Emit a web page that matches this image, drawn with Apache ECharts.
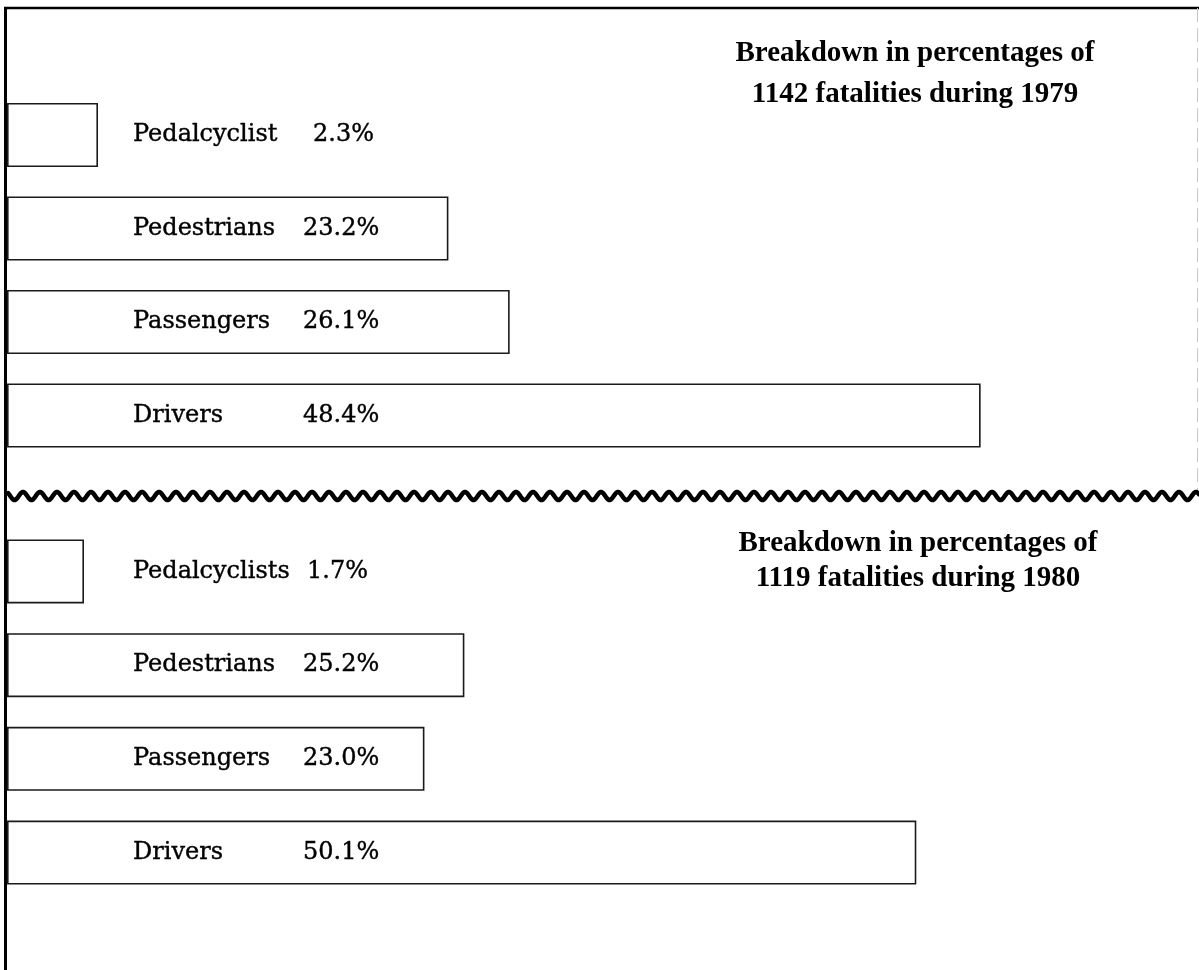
<!DOCTYPE html>
<html>
<head>
<meta charset="utf-8">
<script src="https://cdn.jsdelivr.net/npm/echarts@6/dist/echarts.min.js"></script>
<style>
  html, body { margin: 0; padding: 0; background: #fff; }
  #chart { width: 1199px; height: 970px; }
</style>
</head>
<body>
<div id="chart"></div>
<script>
// ---- data ----
const categories1979 = ['Pedalcyclist', 'Pedestrians', 'Passengers', 'Drivers'];
const percent1979 = [2.3, 23.2, 26.1, 48.4];
const categories1980 = ['Pedalcyclists', 'Pedestrians', 'Passengers', 'Drivers'];
const percent1980 = [1.7, 25.2, 23.0, 50.1];
const title1979 = ['Breakdown in percentages of', '1142 fatalities during 1979'];
const title1980 = ['Breakdown in percentages of', '1119 fatalities during 1980'];

// ---- styling ----
const LABEL_FONT = '"DejaVu Serif", "Liberation Serif", serif';
const TITLE_FONT = '"Liberation Serif", "DejaVu Serif", serif';

function makeLabel(cats, firstWidth) {
  const base = { fontFamily: LABEL_FONT, fontSize: 24, color: '#000', textBorderColor: '#000', textBorderWidth: 0.4 };
  return {
    show: true,
    position: [126, '50%'],
    align: 'left',
    verticalAlign: 'middle',
    formatter: p => {
      const key = p.dataIndex === 0 ? 'w' : 'n';
      return '{' + key + '|' + cats[p.dataIndex] + '}{v|' + p.value.toFixed(1) + '%}';
    },
    rich: {
      n: Object.assign({ width: 170 }, base),
      w: Object.assign({ width: firstWidth }, base),
      v: Object.assign({}, base)
    }
  };
}

function barSeries(idx, values, cats, minLen, firstWidth) {
  return {
    type: 'bar',
    xAxisIndex: idx,
    yAxisIndex: idx,
    data: values,
    barWidth: 64,
    barMinHeight: minLen,
    itemStyle: { color: '#fff', borderColor: '#1a1a1a', borderWidth: 1.6 },
    label: makeLabel(cats, firstWidth),
    emphasis: { disabled: true },
    silent: true
  };
}

// wavy separator (decoration)
function wavePoints(x0, x1, yc, amp, wl, crestX) {
  const pts = [];
  for (let x = x0; x <= x1; x += 1) {
    pts.push([x, yc - amp * Math.cos(2 * Math.PI * (x - crestX) / wl)]);
  }
  return pts;
}

function titleText(x, y, text) {
  return {
    type: 'text', x: x, y: y, silent: true,
    style: {
      text: text, fill: '#000',
      font: 'bold 29px ' + TITLE_FONT,
      textAlign: 'center', textVerticalAlign: 'middle'
    }
  };
}

const chart = echarts.init(document.getElementById('chart'), null, { renderer: 'canvas' });
chart.setOption({
  animation: false,
  backgroundColor: '#fff',
  grid: [
    { left: 7, top: 88.25, width: 1176.4, height: 374 },
    { left: 7, top: 524.6, width: 1089, height: 374.8 }
  ],
  xAxis: [
    { type: 'value', gridIndex: 0, min: 2.3, max: 58, startValue: 2.3, show: false },
    { type: 'value', gridIndex: 1, min: 0, max: 60, show: false }
  ],
  yAxis: [
    { type: 'category', gridIndex: 0, data: categories1979, inverse: true, show: false },
    { type: 'category', gridIndex: 1, data: categories1980, inverse: true, show: false }
  ],
  series: [
    barSeries(0, percent1979, categories1979, 91, 180),
    barSeries(1, percent1980, categories1980, 77, 174)
  ],
  graphic: [
    { type: 'line', silent: true, shape: { x1: 5.5, y1: 7, x2: 5.5, y2: 970 }, style: { stroke: '#000', lineWidth: 3 } },
    { type: 'line', silent: true, shape: { x1: 4, y1: 8, x2: 1199, y2: 8 }, style: { stroke: '#000', lineWidth: 2.5 } },
    { type: 'line', silent: true, shape: { x1: 1197.5, y1: 8, x2: 1197.5, y2: 490 }, style: { stroke: '#c8c8c8', lineWidth: 1, lineDash: [14, 6] } },
    { type: 'polyline', silent: true, shape: { points: wavePoints(8, 1199, 496, 4, 17, 23) }, style: { stroke: '#000', lineWidth: 4.5, fill: null, lineJoin: 'round', lineCap: 'round' } },
    titleText(915, 54, title1979[0]),
    titleText(915, 95, title1979[1]),
    titleText(918, 544, title1980[0]),
    titleText(918, 579, title1980[1])
  ]
});
</script>
</body>
</html>
